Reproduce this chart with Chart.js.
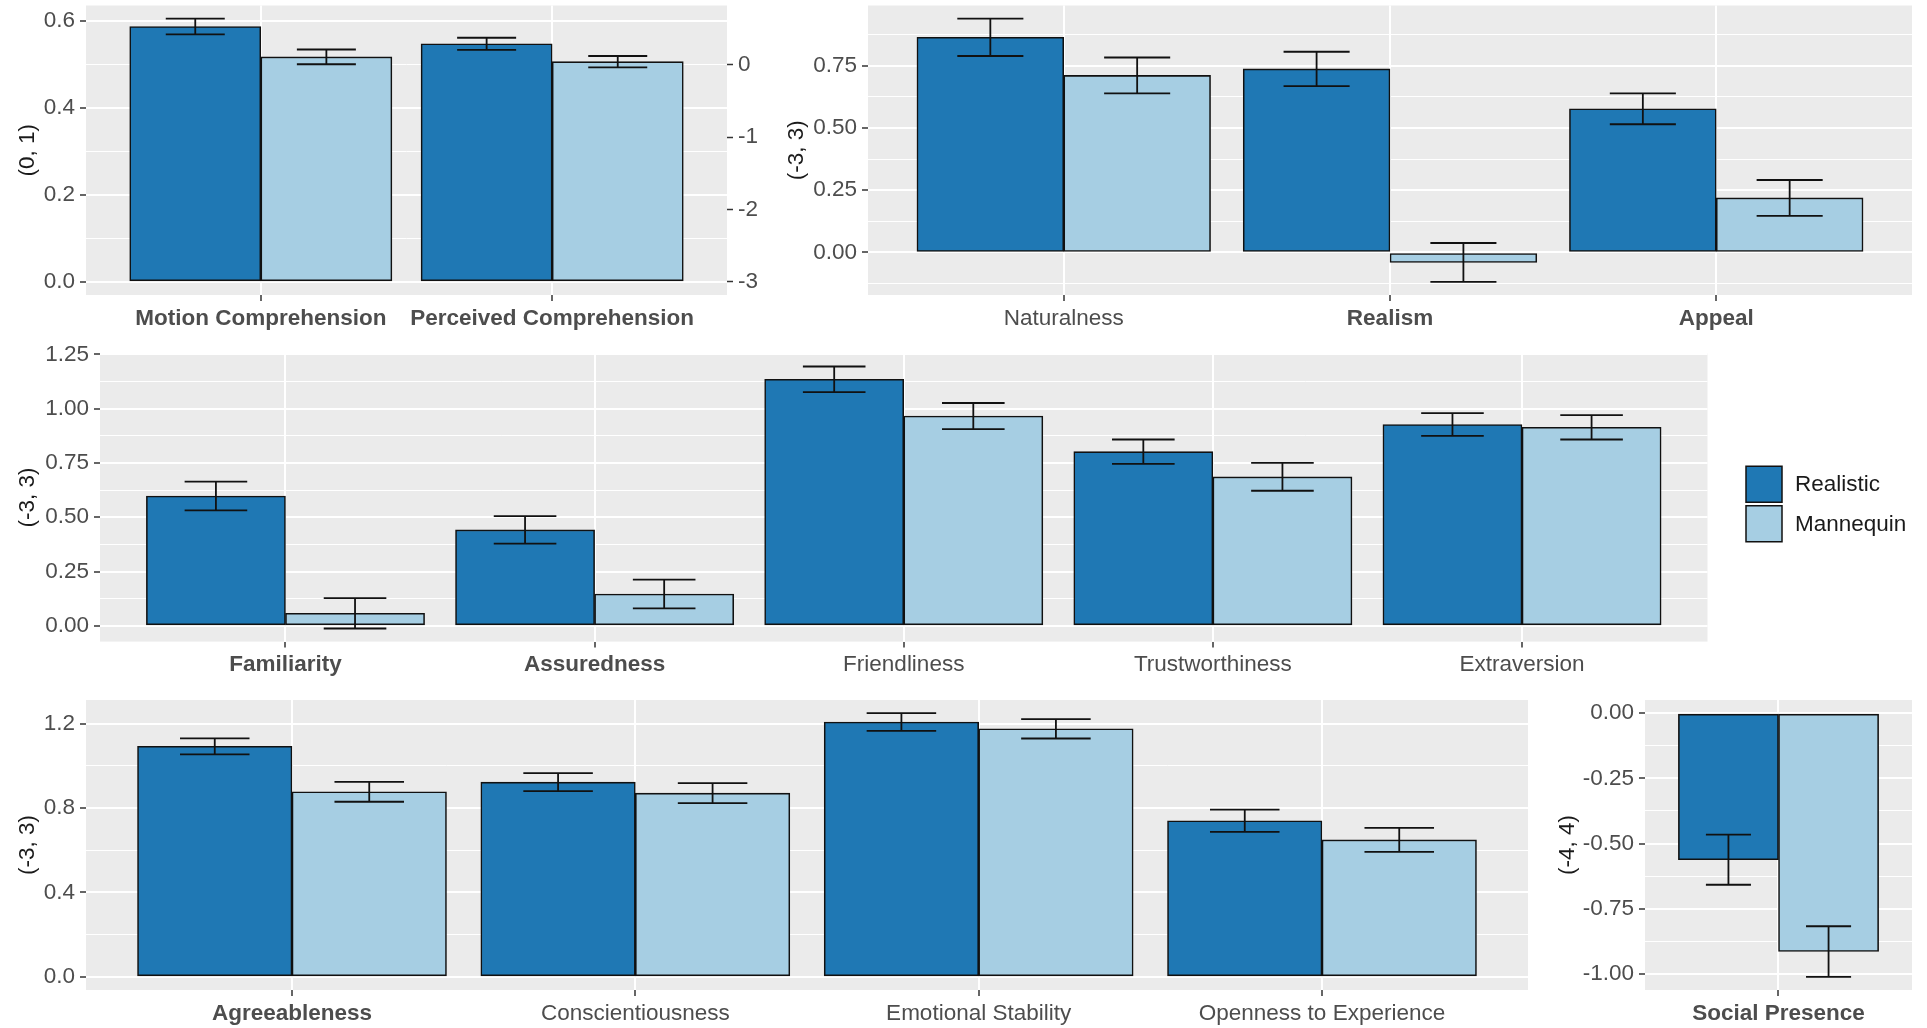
<!DOCTYPE html>
<html>
<head>
<meta charset="utf-8">
<title>Realistic vs Mannequin ratings</title>
<script src="https://cdn.jsdelivr.net/npm/chart.js@4.4.0/dist/chart.umd.min.js"></script>
<style>
  html, body { margin: 0; padding: 0; background: #ffffff; width: 1927px; height: 1028px; overflow: hidden; }
  canvas { position: absolute; }
</style>
</head>
<body>
<canvas id="comprehension"></canvas>
<canvas id="perception"></canvas>
<canvas id="social"></canvas>
<canvas id="personality"></canvas>
<canvas id="presence"></canvas>
<script>
// ---------------- data ----------------
const seriesNames = ['Realistic', 'Mannequin'];

const comprehensionCategories = ['Motion Comprehension', 'Perceived Comprehension'];
const comprehensionRealistic = [0.588, 0.548];
const comprehensionRealisticSE = [0.018, 0.014];
const comprehensionMannequin = [0.518, 0.507];
const comprehensionMannequinSE = [0.017, 0.013];
const comprehensionTicks = ['0.0', '0.2', '0.4', '0.6'];
const comprehensionRightTicks = ['0', '-1', '-2', '-3'];

const perceptionCategories = ['Naturalness', 'Realism', 'Appeal'];
const perceptionRealistic = [0.864, 0.737, 0.577];
const perceptionRealisticSE = [0.075, 0.069, 0.062];
const perceptionMannequin = [0.711, -0.040, 0.219];
const perceptionMannequinSE = [0.072, 0.078, 0.072];
const perceptionTicks = ['0.00', '0.25', '0.50', '0.75'];

const socialCategories = ['Familiarity', 'Assuredness', 'Friendliness', 'Trustworthiness', 'Extraversion'];
const socialRealistic = [0.598, 0.442, 1.135, 0.802, 0.927];
const socialRealisticSE = [0.066, 0.063, 0.059, 0.056, 0.052];
const socialMannequin = [0.058, 0.147, 0.966, 0.686, 0.914];
const socialMannequinSE = [0.070, 0.066, 0.060, 0.064, 0.056];
const socialTicks = ['0.00', '0.25', '0.50', '0.75', '1.00', '1.25'];

const personalityCategories = ['Agreeableness', 'Conscientiousness', 'Emotional Stability', 'Openness to Experience'];
const personalityRealistic = [1.093, 0.923, 1.208, 0.740];
const personalityRealisticSE = [0.038, 0.043, 0.042, 0.053];
const personalityMannequin = [0.877, 0.871, 1.176, 0.649];
const personalityMannequinSE = [0.047, 0.047, 0.046, 0.057];
const personalityTicks = ['0.0', '0.4', '0.8', '1.2'];

const presenceCategories = ['Social Presence'];
const presenceRealistic = [-0.562];
const presenceRealisticSE = [0.096];
const presenceMannequin = [-0.914];
const presenceMannequinSE = [0.097];
const presenceTicks = ['-1.00', '-0.75', '-0.50', '-0.25', '0.00'];

// ---------------- styling ----------------
const FONT = '"Liberation Sans", Arial, Helvetica, sans-serif';
const FONT_SIZE = 22.5;
const TEXT_GREY = '#4D4D4D';
const TITLE_COLOR = '#1A1A1A';
const PANEL_BG = '#EBEBEB';
const FILLS = ['#1F78B4', '#A6CEE3'];
const OUTLINE = '#111111';

Chart.defaults.font.family = FONT;
Chart.defaults.font.size = FONT_SIZE;

// 5% expansion of the data range (bars always include zero)
function expandRange(lows, highs) {
  const lo = Math.min(0, ...lows);
  const hi = Math.max(0, ...highs);
  const pad = (hi - lo) * 0.05;
  return [lo - pad, hi + pad];
}

// Minor gridlines halfway between the major breaks, kept inside the limits
function minorBreaks(majors, lo, hi) {
  const step = majors[1] - majors[0];
  const out = [];
  for (let k = -1; k < majors.length; k++) {
    const v = majors[0] + step * (k + 0.5);
    if (v > lo && v < hi) out.push(v);
  }
  return out;
}

const key = v => Number(v).toFixed(6).replace('-0.000000', '0.000000');

// grey panel behind the plotting area
const panelBackground = {
  id: 'panelBackground',
  beforeDraw(chart) {
    const { ctx, chartArea: a } = chart;
    ctx.save();
    ctx.fillStyle = PANEL_BG;
    ctx.fillRect(a.left, a.top, a.right - a.left, a.bottom - a.top);
    ctx.restore();
  }
};

// standard-error whiskers on top of every bar
const errorBars = {
  id: 'errorBars',
  afterDatasetsDraw(chart) {
    const { ctx } = chart;
    const ys = chart.scales.y;
    ctx.save();
    ctx.strokeStyle = OUTLINE;
    ctx.lineWidth = 1.8;
    chart.data.datasets.forEach((ds, d) => {
      const meta = chart.getDatasetMeta(d);
      meta.data.forEach((bar, i) => {
        const m = ds.data[i].y;
        const e = ds.se[i];
        const yHi = ys.getPixelForValue(m + e);
        const yLo = ys.getPixelForValue(m - e);
        const half = bar.width * 0.45 / 2;
        ctx.beginPath();
        ctx.moveTo(bar.x, yHi); ctx.lineTo(bar.x, yLo);
        ctx.moveTo(bar.x - half, yHi); ctx.lineTo(bar.x + half, yHi);
        ctx.moveTo(bar.x - half, yLo); ctx.lineTo(bar.x + half, yLo);
        ctx.stroke();
      });
    });
    ctx.restore();
  }
};

// fill legend drawn to the right of the panel
const fillLegend = {
  id: 'fillLegend',
  afterDraw(chart, args, opts) {
    if (!opts || !opts.show) return;
    const { ctx, chartArea: a } = chart;
    const size = 36, gap = 3.5;
    const left = a.right + 38.5;
    const cy = (a.top + a.bottom) / 2 + 6.5;
    ctx.save();
    chart.data.datasets.forEach((ds, k) => {
      const top = cy - size - gap / 2 + k * (size + gap);
      ctx.fillStyle = ds.backgroundColor;
      ctx.fillRect(left, top, size, size);
      ctx.strokeStyle = OUTLINE;
      ctx.lineWidth = 1.5;
      ctx.strokeRect(left, top, size, size);
      ctx.fillStyle = TITLE_COLOR;
      ctx.font = `${FONT_SIZE}px ${FONT}`;
      ctx.textBaseline = 'middle';
      ctx.textAlign = 'left';
      ctx.fillText(ds.label, left + size + 13, top + size / 2 + 1);
    });
    ctx.restore();
  }
};

function makePanel(cfg) {
  const el = document.getElementById(cfg.id);
  const cw = cfg.canvas.r - cfg.canvas.l;
  const ch = cfg.canvas.b - cfg.canvas.t;
  el.width = cw; el.height = ch;
  el.style.left = cfg.canvas.l + 'px';
  el.style.top = cfg.canvas.t + 'px';
  el.style.width = cw + 'px';
  el.style.height = ch + 'px';

  const series = [
    { name: seriesNames[0], values: cfg.realistic, se: cfg.realisticSE },
    { name: seriesNames[1], values: cfg.mannequin, se: cfg.mannequinSE }
  ];
  const lows = [], highs = [];
  series.forEach(s => s.values.forEach((v, i) => { lows.push(v - s.se[i]); highs.push(v + s.se[i]); }));
  const [yMin, yMax] = expandRange(lows, highs);
  const n = cfg.categories.length;

  const majorVals = cfg.ticks.map(Number);
  const labelFor = new Map(cfg.ticks.map(t => [key(t), t]));
  const minorVals = minorBreaks(majorVals, yMin, yMax);
  const isMajor = v => labelFor.has(key(v));

  const yAxisW = cfg.bg.l - cfg.canvas.l;
  const xAxisH = cfg.canvas.b - cfg.bg.b;
  const rightW = cfg.canvas.r - cfg.bg.r;

  const scales = {
    x: {
      type: 'linear',
      min: 0.4,
      max: n + 0.6,
      bounds: 'data',
      offset: false,
      afterBuildTicks: sc => { sc.ticks = cfg.categories.map((c, i) => ({ value: i + 1 })); },
      afterFit: sc => { sc.height = xAxisH; sc.paddingLeft = 0; sc.paddingRight = 0; },
      ticks: {
        autoSkip: false, maxRotation: 0, minRotation: 0, padding: 4, color: TEXT_GREY,
        callback: v => cfg.categories[Math.round(v) - 1] || '',
        font: ctx => ({
          family: FONT, size: FONT_SIZE,
          weight: cfg.bold.has(cfg.categories[ctx.index]) ? 'bold' : 'normal'
        })
      },
      grid: {
        offset: false, color: '#FFFFFF', lineWidth: 2,
        drawTicks: true, tickLength: 6, tickColor: '#333333', tickWidth: 1.5
      },
      border: { display: false }
    },
    y: {
      type: 'linear',
      position: 'left',
      min: yMin,
      max: yMax,
      bounds: 'data',
      afterBuildTicks: sc => {
        sc.ticks = majorVals.concat(minorVals).sort((p, q) => p - q).map(v => ({ value: v }));
      },
      afterFit: sc => { sc.width = yAxisW; sc.paddingTop = 0; sc.paddingBottom = 0; },
      ticks: {
        autoSkip: false, padding: 5, color: TEXT_GREY,
        font: { family: FONT, size: FONT_SIZE },
        callback: v => labelFor.get(key(v)) || ''
      },
      grid: {
        color: '#FFFFFF',
        lineWidth: ctx => (ctx.tick && isMajor(ctx.tick.value)) ? 2 : 1,
        drawTicks: true, tickLength: 6, tickWidth: 1.5,
        tickColor: ctx => (ctx.tick && isMajor(ctx.tick.value)) ? '#333333' : 'rgba(0,0,0,0)'
      },
      border: { display: false },
      title: {
        display: true, text: cfg.title, color: TITLE_COLOR,
        font: { family: FONT, size: FONT_SIZE },
        padding: { top: cfg.titleX - cfg.canvas.l - FONT_SIZE * 0.6, bottom: 0 }
      }
    }
  };

  let padRight = rightW;
  if (cfg.rightTicks) {
    padRight = 0;
    scales.y2 = {
      type: 'linear',
      position: 'right',
      min: cfg.rightMap(yMin),
      max: cfg.rightMap(yMax),
      bounds: 'data',
      afterBuildTicks: sc => { sc.ticks = cfg.rightTicks.map(t => ({ value: Number(t) })); },
      afterFit: sc => { sc.width = rightW; sc.paddingTop = 0; sc.paddingBottom = 0; },
      ticks: {
        autoSkip: false, padding: 5, color: TEXT_GREY,
        font: { family: FONT, size: FONT_SIZE },
        callback: v => cfg.rightTicks.find(t => key(t) === key(v)) || ''
      },
      grid: { drawOnChartArea: false, drawTicks: true, tickLength: 6, tickWidth: 1.5, tickColor: '#333333' },
      border: { display: false }
    };
  }

  return new Chart(el, {
    type: 'bar',
    data: {
      datasets: series.map((s, k) => ({
        label: s.name,
        data: s.values.map((v, i) => ({ x: i + 1, y: v })),
        se: s.se,
        backgroundColor: FILLS[k],
        borderColor: OUTLINE,
        borderWidth: 1.6,
        borderSkipped: false,
        grouped: true,
        barThickness: ctx => {
          const xs = ctx.chart.scales.x;
          if (!xs || !xs.width) return undefined;
          return 0.45 * Math.abs(xs.getPixelForValue(2) - xs.getPixelForValue(1));
        }
      }))
    },
    options: {
      responsive: false,
      maintainAspectRatio: false,
      animation: false,
      devicePixelRatio: 1,
      events: [],
      layout: { padding: { left: 0, top: cfg.bg.t - cfg.canvas.t, right: padRight, bottom: 0 } },
      scales,
      plugins: {
        legend: { display: false },
        tooltip: { enabled: false },
        fillLegend: { show: !!cfg.legend }
      }
    },
    plugins: [panelBackground, errorBars, fillLegend]
  });
}

makePanel({
  id: 'comprehension',
  categories: comprehensionCategories,
  realistic: comprehensionRealistic, realisticSE: comprehensionRealisticSE,
  mannequin: comprehensionMannequin, mannequinSE: comprehensionMannequinSE,
  ticks: comprehensionTicks,
  rightTicks: comprehensionRightTicks,
  rightMap: v => v * 6 - 3,          // (0, 1) rescaled onto (-3, 3)
  title: '(0, 1)', titleX: 28,
  bold: new Set(['Motion Comprehension', 'Perceived Comprehension']),
  bg: { l: 86, t: 5.5, r: 727, b: 295 },
  canvas: { l: 0, t: 0, r: 772, b: 340 }
});

makePanel({
  id: 'perception',
  categories: perceptionCategories,
  realistic: perceptionRealistic, realisticSE: perceptionRealisticSE,
  mannequin: perceptionMannequin, mannequinSE: perceptionMannequinSE,
  ticks: perceptionTicks,
  title: '(-3, 3)', titleX: 797,
  bold: new Set(['Realism', 'Appeal']),
  bg: { l: 868, t: 5.5, r: 1912, b: 295 },
  canvas: { l: 770, t: 0, r: 1927, b: 340 }
});

makePanel({
  id: 'social',
  categories: socialCategories,
  realistic: socialRealistic, realisticSE: socialRealisticSE,
  mannequin: socialMannequin, mannequinSE: socialMannequinSE,
  ticks: socialTicks,
  title: '(-3, 3)', titleX: 27.5,
  bold: new Set(['Familiarity', 'Assuredness']),
  bg: { l: 100, t: 353.4, r: 1707.5, b: 641.6 },
  canvas: { l: 0, t: 330, r: 1927, b: 687 },
  legend: true
});

makePanel({
  id: 'personality',
  categories: personalityCategories,
  realistic: personalityRealistic, realisticSE: personalityRealisticSE,
  mannequin: personalityMannequin, mannequinSE: personalityMannequinSE,
  ticks: personalityTicks,
  title: '(-3, 3)', titleX: 28,
  bold: new Set(['Agreeableness']),
  bg: { l: 86, t: 700, r: 1528, b: 990 },
  canvas: { l: 0, t: 680, r: 1540, b: 1028 }
});

makePanel({
  id: 'presence',
  categories: presenceCategories,
  realistic: presenceRealistic, realisticSE: presenceRealisticSE,
  mannequin: presenceMannequin, mannequinSE: presenceMannequinSE,
  ticks: presenceTicks,
  title: '(-4, 4)', titleX: 1568,
  bold: new Set(['Social Presence']),
  bg: { l: 1645, t: 700, r: 1912, b: 990 },
  canvas: { l: 1540, t: 680, r: 1927, b: 1028 }
});
</script>
</body>
</html>
